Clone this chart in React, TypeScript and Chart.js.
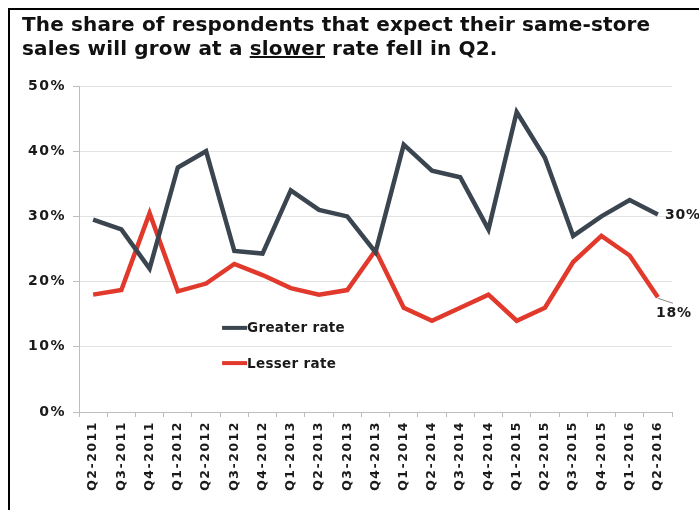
import React, { useEffect, useRef } from "react";
import { Chart, registerables } from "chart.js";

Chart.register(...registerables);

const categories = [
  "Q2-2011", "Q3-2011", "Q4-2011", "Q1-2012", "Q2-2012", "Q3-2012", "Q4-2012",
  "Q1-2013", "Q2-2013", "Q3-2013", "Q4-2013", "Q1-2014", "Q2-2014", "Q3-2014",
  "Q4-2014", "Q1-2015", "Q2-2015", "Q3-2015", "Q4-2015", "Q1-2016", "Q2-2016",
];
const greaterRate = [29.5, 28, 22, 37.5, 40, 24.7, 24.3, 34, 31, 30, 24.5, 41, 37, 36, 28, 46, 39, 27, 30, 32.5, 30.3];
const lesserRate = [18, 18.7, 30.5, 18.5, 19.7, 22.7, 21, 19, 18, 18.7, 24.8, 16, 14, 16, 18, 14, 16, 23, 27, 24, 17.6];
const yTicks = [0, 10, 20, 30, 40, 50];
const seriesNames = ["Greater rate", "Lesser rate"];
const endLabels = ["30%", "18%"];

const GREATER = "#3b4550";
const LESSER = "#e1392b";
const FONT = "'DejaVu Sans', Verdana, sans-serif";

export default function App() {
  const ref = useRef<HTMLCanvasElement>(null);
  useEffect(() => {
    if (!ref.current) return;
    const spacing = {
      id: "spacing",
      beforeDraw(chart: any) {
        chart.ctx.letterSpacing = "1.5px";
      },
      afterDraw(chart: any) {
        chart.ctx.letterSpacing = "0px";
      },
    };
    const overlay = {
      id: "overlay",
      afterDatasetsDraw(chart: any) {
        const ctx = chart.ctx;
        const xs = chart.scales.x;
        const ys = chart.scales.y;
        ctx.save();
        ctx.letterSpacing = "0.3px";
        // legend
        const lx = xs.getPixelForValue(4) + 16;
        const rows = [
          { name: seriesNames[0], color: GREATER, v: 12.9 },
          { name: seriesNames[1], color: LESSER, v: 7.5 },
        ];
        ctx.font = `bold 13.5px ${FONT}`;
        ctx.textBaseline = "middle";
        ctx.textAlign = "left";
        rows.forEach((r) => {
          const y = ys.getPixelForValue(r.v);
          ctx.strokeStyle = r.color;
          ctx.lineWidth = 4;
          ctx.beginPath();
          ctx.moveTo(lx, y);
          ctx.lineTo(lx + 25, y);
          ctx.stroke();
          ctx.fillStyle = "#1a1a1a";
          ctx.fillText(r.name, lx + 25, y + 1);
        });
        // end labels
        const last = categories.length - 1;
        const gx = xs.getPixelForValue(last);
        const gy = ys.getPixelForValue(greaterRate[last]);
        const ry = ys.getPixelForValue(lesserRate[last]);
        ctx.font = `bold 14px ${FONT}`;
        ctx.letterSpacing = "0.8px";
        ctx.fillStyle = "#1a1a1a";
        ctx.fillText(endLabels[0], gx + 7, gy + 1);
        ctx.strokeStyle = "#666";
        ctx.lineWidth = 0.8;
        ctx.beginPath();
        ctx.moveTo(gx, ry + 1);
        ctx.lineTo(gx + 15, ry + 6);
        ctx.stroke();
        ctx.fillText(endLabels[1], gx - 2, ry + 16);
        ctx.restore();
      },
    };
    const chart = new Chart(ref.current, {
      type: "line",
      data: {
        labels: categories,
        datasets: [
          {
            label: seriesNames[0],
            data: greaterRate,
            borderColor: GREATER,
            backgroundColor: GREATER,
            borderWidth: 4.5,
            pointRadius: 0,
            tension: 0,
          },
          {
            label: seriesNames[1],
            data: lesserRate,
            borderColor: LESSER,
            backgroundColor: LESSER,
            borderWidth: 4.5,
            pointRadius: 0,
            tension: 0,
          },
        ],
      },
      options: {
        responsive: false,
        animation: false,
        devicePixelRatio: 1,
        layout: { padding: { left: 10, top: 86, right: 27, bottom: 5 } },
        plugins: {
          legend: { display: false },
          tooltip: { enabled: false },
        },
        scales: {
          x: {
            offset: true,
            grid: {
              display: true,
              drawOnChartArea: false,
              offset: true,
              tickLength: 5,
              color: "#bdbdbd",
            },
            border: { display: true, color: "#bdbdbd", width: 1 },
            ticks: {
              autoSkip: false,
              minRotation: 90,
              maxRotation: 90,
              color: "#1a1a1a",
              font: { family: FONT, size: 12.5, weight: "bold" },
              padding: 4,
            },
            afterFit(s: any) {
              s.height = 93;
            },
          },
          y: {
            min: 0,
            max: 50,
            afterBuildTicks(s: any) {
              s.ticks = yTicks.map((v) => ({ value: v }));
            },
            grid: {
              color: "#e3e3e3",
              tickLength: 6,
              tickColor: "#bdbdbd",
            },
            border: { display: true, color: "#bdbdbd", width: 1 },
            ticks: {
              color: "#1a1a1a",
              font: { family: FONT, size: 14, weight: "bold" },
              padding: 7,
              callback: (v: any) => `${v}%`,
            },
            afterFit(s: any) {
              s.width = 69;
            },
          },
        },
      },
      plugins: [spacing, overlay],
    });
    return () => chart.destroy();
  }, []);

  return (
    <div style={{ position: "absolute", left: 0, top: 0, width: 699, height: 510, overflow: "hidden", background: "#fff" }}>
      <div
        style={{
          position: "absolute",
          left: 8,
          top: 8,
          width: 700,
          height: 520,
          borderLeft: "2px solid #000",
          borderTop: "2px solid #000",
          boxSizing: "border-box",
        }}
      />
      <canvas ref={ref} width={699} height={510} style={{ position: "absolute", left: 0, top: 0 }} />
      <div
        style={{
          position: "absolute",
          left: 22,
          top: 12,
          fontFamily: FONT,
          fontWeight: "bold",
          fontSize: 20,
          letterSpacing: "0.15px",
          lineHeight: "24px",
          color: "#111",
          whiteSpace: "nowrap",
        }}
      >
        The share of respondents that expect their same-store
        <br />
        sales will grow at a <u>slower</u> rate fell in Q2.
      </div>
    </div>
  );
}
